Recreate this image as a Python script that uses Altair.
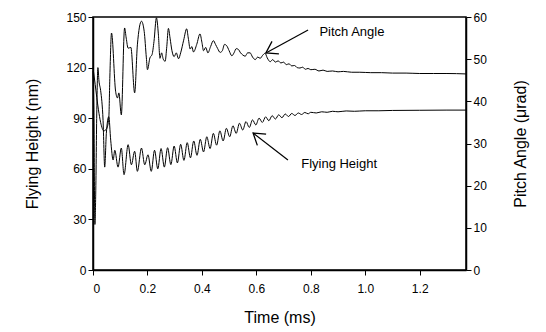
import altair as alt
import pandas as pd

# ---- data ----
fh_t = [0.000, 0.003, 0.007, 0.010, 0.014, 0.018, 0.022, 0.028, 0.037, 0.043, 0.049, 0.058,
        0.065, 0.074, 0.080, 0.092, 0.104, 0.114, 0.129, 0.141, 0.153, 0.163, 0.178, 0.190,
        0.202, 0.214, 0.226, 0.238, 0.250, 0.262, 0.274, 0.286, 0.298, 0.310, 0.322, 0.334,
        0.346, 0.358, 0.370, 0.382, 0.394, 0.406, 0.418, 0.430, 0.442, 0.454, 0.466, 0.478,
        0.490, 0.502, 0.514, 0.526, 0.538, 0.550, 0.562, 0.574, 0.586, 0.598, 0.610, 0.622,
        0.634, 0.646, 0.658, 0.670, 0.682, 0.694, 0.706, 0.718, 0.730, 0.742, 0.754, 0.766,
        0.778, 0.790, 0.800, 0.820, 0.840, 0.860, 0.880, 0.900, 0.930, 0.960, 1.000, 1.050,
        1.100, 1.200, 1.300, 1.370]
fh_v = [118, 95, 27, 45, 95, 120, 112, 106.5, 88.6, 61, 81, 90.9,
        77, 65.2, 71, 61, 72.3, 56.5, 74.3, 62.4, 70.4, 58.5, 72.3, 62.4,
        68.3, 58.5, 71, 60, 72, 61, 72.5, 62.5, 73.5, 63.5, 74.5, 65,
        75.5, 66.5, 76.5, 68, 77.5, 70, 79, 72, 81, 74, 82.5, 76.5,
        84, 79, 85.5, 81, 87, 83, 88, 84.5, 89, 86, 90, 87.5,
        90.8, 88.5, 91.5, 89.5, 92, 90.3, 92.5, 91, 92.8, 91.6, 93.1, 92.2,
        93.4, 92.6, 93.5, 93.1, 93.8, 93.5, 94.1, 93.8, 94.3, 94.1, 94.4, 94.4,
        94.6, 94.7, 94.8, 94.8]

pa_t = [0.000, 0.008, 0.020, 0.028, 0.040, 0.050, 0.058, 0.062, 0.068, 0.083, 0.090, 0.095,
        0.104, 0.116, 0.122, 0.129, 0.139, 0.153, 0.163, 0.178, 0.188, 0.196, 0.200, 0.209,
        0.217, 0.224, 0.233, 0.240, 0.246, 0.252, 0.258, 0.265, 0.271, 0.277, 0.283, 0.290,
        0.298, 0.306, 0.314, 0.322, 0.333, 0.344, 0.350, 0.357, 0.363, 0.369, 0.381, 0.393,
        0.400, 0.406, 0.414, 0.422, 0.432, 0.442, 0.450, 0.458, 0.467, 0.475, 0.483, 0.491,
        0.500, 0.510, 0.518, 0.526, 0.534, 0.542, 0.550, 0.559, 0.568, 0.577, 0.586, 0.596,
        0.605, 0.614, 0.623, 0.632, 0.640, 0.651, 0.660, 0.670, 0.680, 0.690, 0.700, 0.710,
        0.720, 0.730, 0.740, 0.750, 0.760, 0.770, 0.780, 0.790, 0.800, 0.815, 0.830, 0.845,
        0.860, 0.880, 0.900, 0.920, 0.950, 0.980, 1.020, 1.060, 1.100, 1.150, 1.200, 1.250,
        1.300, 1.370]
pa_v = [48, 44, 38, 35, 33, 33.5, 36, 46, 56.2, 42.4, 40.8, 42,
        36.8, 57.4, 55, 52.6, 52.8, 42, 53.4, 59, 56.6, 50.3, 47.5, 50.3,
        51.1, 54.2, 59.8, 56, 50.2, 51.5, 50, 49.5, 53, 57.3, 55, 52,
        50.6, 51.5, 50.1, 51.5, 54.5, 57.2, 55, 52.4, 53, 51.7, 53.5, 56,
        54, 52, 52.8, 51.5, 53, 54.4, 53.5, 52.5, 51.6, 52, 53.5, 53.2,
        52, 50.8, 51.5, 52.5, 52.3, 51.5, 51, 50.7, 51.5, 51.5, 50.5, 49.9,
        50.5, 50.2, 50.9, 51.4, 50.3, 49.4, 49.9, 49.3, 49.6, 49.1, 49.3, 48.7,
        48.9, 48.4, 48.5, 48, 47.9, 48.1, 47.6, 47.8, 47.5, 47.6, 47.2, 47.4,
        47.1, 47.2, 47, 47.1, 46.9, 46.9, 46.8, 46.8, 46.7, 46.7, 46.6, 46.6,
        46.6, 46.5]

x_ticks = [0, 0.2, 0.4, 0.6, 0.8, 1.0, 1.2]
fh_ticks = [0, 30, 60, 90, 120, 150]
pa_ticks = [0, 10, 20, 30, 40, 50, 60]

ann_text = ["Pitch Angle", "Flying Height"]
ann_t = [0.951, 0.904]
ann_h = [141.1, 62.8]
arr_t0 = [0.790, 0.716]
arr_h0 = [142.3, 65.2]
arr_t1 = [0.635, 0.588]
arr_h1 = [128.7, 81.2]
arr_angle = [151, 218]

FONT = "Liberation Sans"

fh_df = pd.DataFrame({"t": fh_t, "v": fh_v})
pa_df = pd.DataFrame({"t": pa_t, "v": pa_v})
ann_df = pd.DataFrame({"label": ann_text, "t": ann_t, "h": ann_h})
arr_df = pd.DataFrame({"t0": arr_t0, "h0": arr_h0, "t1": arr_t1, "h1": arr_h1, "angle": arr_angle})

xscale = alt.Scale(domain=[0, 1.37], nice=False)
hscale = alt.Scale(domain=[0, 150], nice=False)
pscale = alt.Scale(domain=[0, 60], nice=False)

xaxis = alt.Axis(values=x_ticks, title="Time (ms)", grid=False,
                 labelExpr="datum.value == 0 ? '0' : format(datum.value, '.1f')",
                 labelPadding=8, titlePadding=15)

fh_line = alt.Chart(fh_df).mark_line(color="black", strokeWidth=1, interpolate="monotone").encode(
    x=alt.X("t:Q", scale=xscale, axis=xaxis),
    y=alt.Y("v:Q", scale=hscale,
            axis=alt.Axis(values=fh_ticks, title="Flying Height (nm)", grid=False,
                          titlePadding=25)),
)

pa_line = alt.Chart(pa_df).mark_line(color="black", strokeWidth=1, interpolate="monotone").encode(
    x=alt.X("t:Q", scale=xscale),
    y=alt.Y("v:Q", scale=pscale,
            axis=alt.Axis(values=pa_ticks, title="Pitch Angle (μrad)", orient="right",
                          grid=False, titlePadding=42, titleAngle=270)),
)

texts = alt.Chart(ann_df).mark_text(font=FONT, fontSize=13, color="black").encode(
    x=alt.X("t:Q", scale=xscale),
    y=alt.Y("h:Q", scale=hscale, axis=None),
    text="label:N",
)

shafts = alt.Chart(arr_df).mark_rule(color="black", strokeWidth=1.2).encode(
    x=alt.X("t0:Q", scale=xscale),
    x2="t1:Q",
    y=alt.Y("h0:Q", scale=hscale, axis=None),
    y2="h1:Q",
)

heads = alt.Chart(arr_df).mark_point(
    shape="M -1 -0.65 L 0 0 L -1 0.65", filled=False, size=480,
    color="black", strokeWidth=1.3, opacity=1,
).encode(
    x=alt.X("t1:Q", scale=xscale),
    y=alt.Y("h1:Q", scale=hscale, axis=None),
    angle=alt.Angle("angle:Q", scale=None),
)

chart = alt.layer(fh_line, pa_line, texts, shafts, heads).resolve_scale(
    y="independent"
).properties(
    width=373, height=253,
    autosize=alt.AutoSizeParams(type="none"),
    padding={"left": 93, "top": 17, "right": 80, "bottom": 62},
).configure_view(
    stroke="black", strokeWidth=1.5
).configure_axis(
    domainColor="black", domainWidth=1.5, tickColor="black", tickSize=5,
    labelFont=FONT, labelFontSize=12, labelColor="black",
    titleFont=FONT, titleFontSize=16, titleColor="black", titleFontWeight="normal",
)

chart.save("out.html", embed_options={"renderer": "svg", "actions": False})
